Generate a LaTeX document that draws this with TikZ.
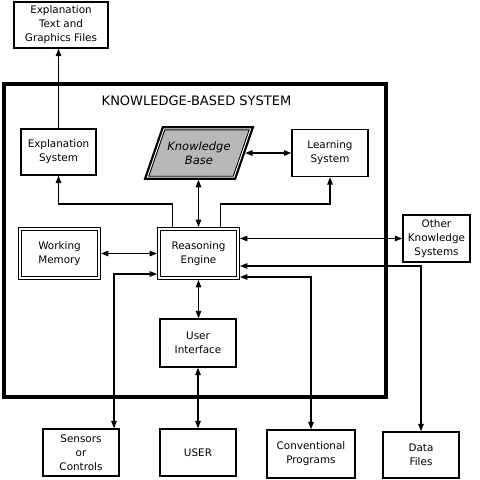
\documentclass[tikz,border=0pt]{standalone}
\usepackage{fontspec}
\setmainfont{DejaVu Sans}
\usetikzlibrary{positioning,arrows.meta}

\begin{document}
\begin{tikzpicture}[
	x=1pt, y=-1pt,
	every node/.style={
		align=center,
		inner sep=0pt,
		font=\fontsize{10.4}{14}\selectfont
	},
	box/.style={draw, line width=1.4pt, minimum width=76pt, minimum height=47pt},
	dblbox/.style={draw, line width=0.9pt, double, double distance=2pt, outer sep=1.9pt,
		minimum width=79pt, minimum height=49pt},
	kbtext/.style={minimum width=84pt, minimum height=46pt,
		font=\fontsize{11.5}{14}\selectfont\itshape},
	kbframe/.style={preaction={draw, line width=7.5pt}, preaction={draw=white, line width=3pt},
		fill=black!28, draw, line width=0.9pt},
	frame/.style={draw, line width=3.4pt},
	arrow/.style={-{Triangle[length=7.5pt,width=5.5pt]}, line width=1.3pt},
	dblarrow/.style={{Triangle[length=7.5pt,width=5.5pt]}-{Triangle[length=7.5pt,width=5.5pt]}, line width=1.3pt}
	]
	\useasboundingbox (0,0) rectangle (480,480);
	
	% outer system
	\node[frame, minimum width=382pt, minimum height=313pt] (kbs) at (195,240.5) {};
	\node[font=\fontsize{13}{16}\selectfont] (title) at (196.5,100.5) {KNOWLEDGE-BASED SYSTEM};
	
	\node[box, minimum width=94pt, minimum height=46pt] (etg) at (61,25) {Explanation\\Text and\\Graphics Files};
	\node[box, minimum width=75pt, minimum height=46pt] (es) at (58.5,152) {Explanation\\System};
	\node[kbtext] (kb) at (199,153) {};
	\draw[kbframe] ([xshift=-8pt]kb.south west) -- ([xshift=-8pt]kb.south east)
		-- ([xshift=8pt]kb.north east) -- ([xshift=8pt]kb.north west) -- cycle;
	\node[kbtext] at (kb) {Knowledge\\Base};
	\node[box] (ls) at (330,153) {Learning\\System};
	\node[dblbox] (wm) at (59.5,253.5) {Working\\Memory};
	\node[dblbox] (re) at (198.5,253.5) {Reasoning\\Engine};
	\node[box, minimum width=67pt] (oks) at (436.5,238.5) {Other\\Knowledge\\Systems};
	\node[box, minimum height=48pt] (ui) at (198,343) {User\\Interface};
	
	% outside the system
	\node[box] (sc) at (81,452.5) {Sensors\\or\\Controls};
	\node[box] (user) at (198,452.5) {USER};
	\node[box, minimum width=88pt, minimum height=48pt] (cp) at (311,454) {Conventional\\Programs};
	\node[box, minimum height=46pt] (df) at (421,455) {Data\\Files};
	
	\draw[arrow] (es.north) -- (es.north |- etg.south);
	\draw[arrow] ([xshift=-26pt]re.north) -- ++(0,-23) -| (es.south);
	\draw[arrow] ([xshift=22pt]re.north) -- ++(0,-23) -| (ls.south);
	\draw[dblarrow, shorten <=3.6pt] (re.north |- kb.south) -- (re.north);
	\draw[dblarrow, shorten <=3.8pt] (kb.east) -- (kb.east -| ls.west);
	\draw[dblarrow] (wm.east) -- (re.west);
	\draw[dblarrow] ([yshift=-20.5pt]re.west) -| ([xshift=33pt]sc.north);
	\draw[dblarrow] (re.south) -- (re.south |- ui.north);
	\draw[dblarrow] (ui.south) -- (ui.south |- user.north);
	\draw[dblarrow] (re.east |- oks.west) -- (oks.west);
	\draw[dblarrow] ([yshift=-12.5pt]re.east) -| (df.north);
	\draw[dblarrow] ([yshift=-23.5pt]re.east) -| (cp.north);
	
\end{tikzpicture}
\end{document}
